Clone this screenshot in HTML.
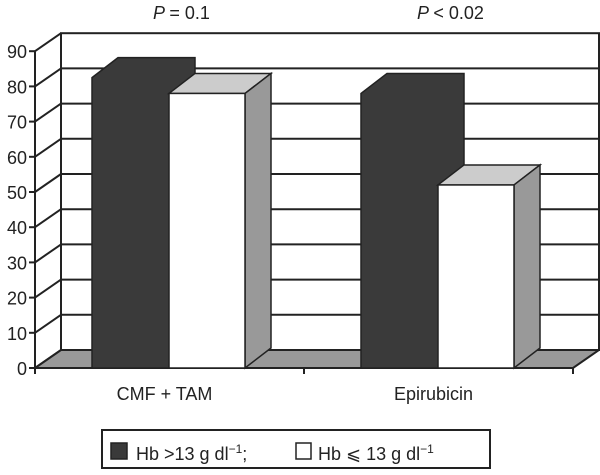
<!DOCTYPE html>
<html><head><meta charset="utf-8"><style>
body{margin:0;background:#fff;width:600px;height:470px;overflow:hidden}
text{font-family:"Liberation Sans",sans-serif;fill:#222}
</style></head><body>
<svg id="chart" width="600" height="470" viewBox="0 0 600 470" xmlns="http://www.w3.org/2000/svg"></svg>
<script>
const categories=["CMF + TAM","Epirubicin"];
const highHb=[82.5,78];
const lowHb=[78,52];
const yTicks=[0,10,20,30,40,50,60,70,80,90];
const pLabels=["= 0.1","< 0.02"];

const NS="http://www.w3.org/2000/svg";
const svg=document.getElementById('chart');
const X0=35,Y0=368,PER=3.52,DX=26,DY=-18,XR=573;
function y(v){return Y0-v*PER;}
function el(tag,attrs,parent){const e=document.createElementNS(NS,tag);for(const k in attrs)e.setAttribute(k,attrs[k]);(parent||svg).appendChild(e);return e;}
function txt(s,x,yy,anchor,parent){const t=el('text',{x:x,y:yy,'font-size':18,'text-anchor':anchor||'start'},parent);t.textContent=s;return t;}

const wall=el('rect',{x:X0+DX,y:y(90)+DY,width:XR-X0,height:90*PER,fill:'#fff',stroke:'#222','stroke-width':2});


yTicks.forEach(v=>{
  if(v>0&&v<90){const g=el('line',{x1:X0+DX,x2:XR+DX,y1:y(v)+DY,y2:y(v)+DY,stroke:'#222','stroke-width':2});
  
  }
  const d=el('line',{x1:X0,y1:y(v),x2:X0+DX,y2:y(v)+DY,stroke:'#222','stroke-width':2});
  
  
  el('line',{x1:X0-6,x2:X0,y1:y(v),y2:y(v),stroke:'#222','stroke-width':2});
  const t=txt(String(v),X0-8,y(v)+7,'end');
  
  
});
el('line',{x1:X0+DX,y1:y(0)+DY,x2:X0+DX,y2:y(90)+DY,stroke:'#222','stroke-width':2});
const floor=el('polygon',{points:`${X0},${Y0} ${XR},${Y0} ${XR+DX},${Y0+DY} ${X0+DX},${Y0+DY}`,fill:'#999',stroke:'#222','stroke-width':2});


el('line',{x1:X0,y1:Y0,x2:X0,y2:y(90),stroke:'#222','stroke-width':2});
el('line',{x1:X0,y1:Y0,x2:XR,y2:Y0,stroke:'#222','stroke-width':2});
const catW=(XR-X0)/categories.length;
[0,1,2].forEach(i=>el('line',{x1:X0+i*catW,x2:X0+i*catW,y1:Y0,y2:Y0+6,stroke:'#222','stroke-width':2}));

function bar(xl,w,v,front,top,side,name,solid){
  const g=el('g',{});
  
  
  const yt=y(v),dx=DX,dy=-20;
  if(solid){
    el('polygon',{points:`${xl},${yt} ${xl+dx},${yt+dy} ${xl+w+dx},${yt+dy} ${xl+w+dx},${Y0+dy} ${xl+w},${Y0} ${xl},${Y0}`,fill:front,stroke:'#222','stroke-width':1.5},g);
    return;
  }
  el('polygon',{points:`${xl},${yt} ${xl+dx},${yt+dy} ${xl+w+dx},${yt+dy} ${xl+w},${yt}`,fill:top,stroke:'#222','stroke-width':1.5},g);
  el('polygon',{points:`${xl+w},${yt} ${xl+w+dx},${yt+dy} ${xl+w+dx},${Y0+dy} ${xl+w},${Y0}`,fill:side,stroke:'#222','stroke-width':1.5},g);
  el('rect',{x:xl,y:yt,width:w,height:Y0-yt,fill:front,stroke:'#222','stroke-width':1.5},g);
}
const barW=77;
categories.forEach((c,i)=>{
  const start=X0+i*catW+57;
  bar(start,barW,highHb[i],'#3a3a3a','#3a3a3a','#3a3a3a','bar-high-hb-'+i,true);
  bar(start+barW,barW-1,lowHb[i],'#fff','#ccc','#999','bar-low-hb-'+i,false);
  const cx=X0+i*catW+catW/2;
  const l=txt(c,cx-5,400,'middle');
  
  
  const p=el('text',{x:cx+12,y:19,'font-size':18,'text-anchor':'middle'});
  
  
  const ts=el('tspan',{'font-style':'italic'},p);ts.textContent='P ';
  const ts2=el('tspan',{},p);ts2.textContent=pLabels[i];
});
const lg=el('g',{});


el('rect',{x:102,y:430,width:388,height:38,fill:'#fff',stroke:'#222','stroke-width':2},lg);
el('rect',{x:111,y:443,width:16,height:16,fill:'#3a3a3a',stroke:'#222','stroke-width':1.5},lg);
const t1=el('text',{x:136,y:460,'font-size':18},lg);


t1.innerHTML='Hb &gt;13 g dl<tspan dy="-7" font-size="12">−1</tspan><tspan dy="7">;</tspan>';
el('rect',{x:296,y:443,width:15,height:16,fill:'#fff',stroke:'#222','stroke-width':1.5},lg);
const t2=el('text',{x:318,y:460,'font-size':18},lg);


t2.innerHTML='Hb ⩽ 13 g dl<tspan dy="-7" font-size="12">−1</tspan>';
</script>
</body></html>
